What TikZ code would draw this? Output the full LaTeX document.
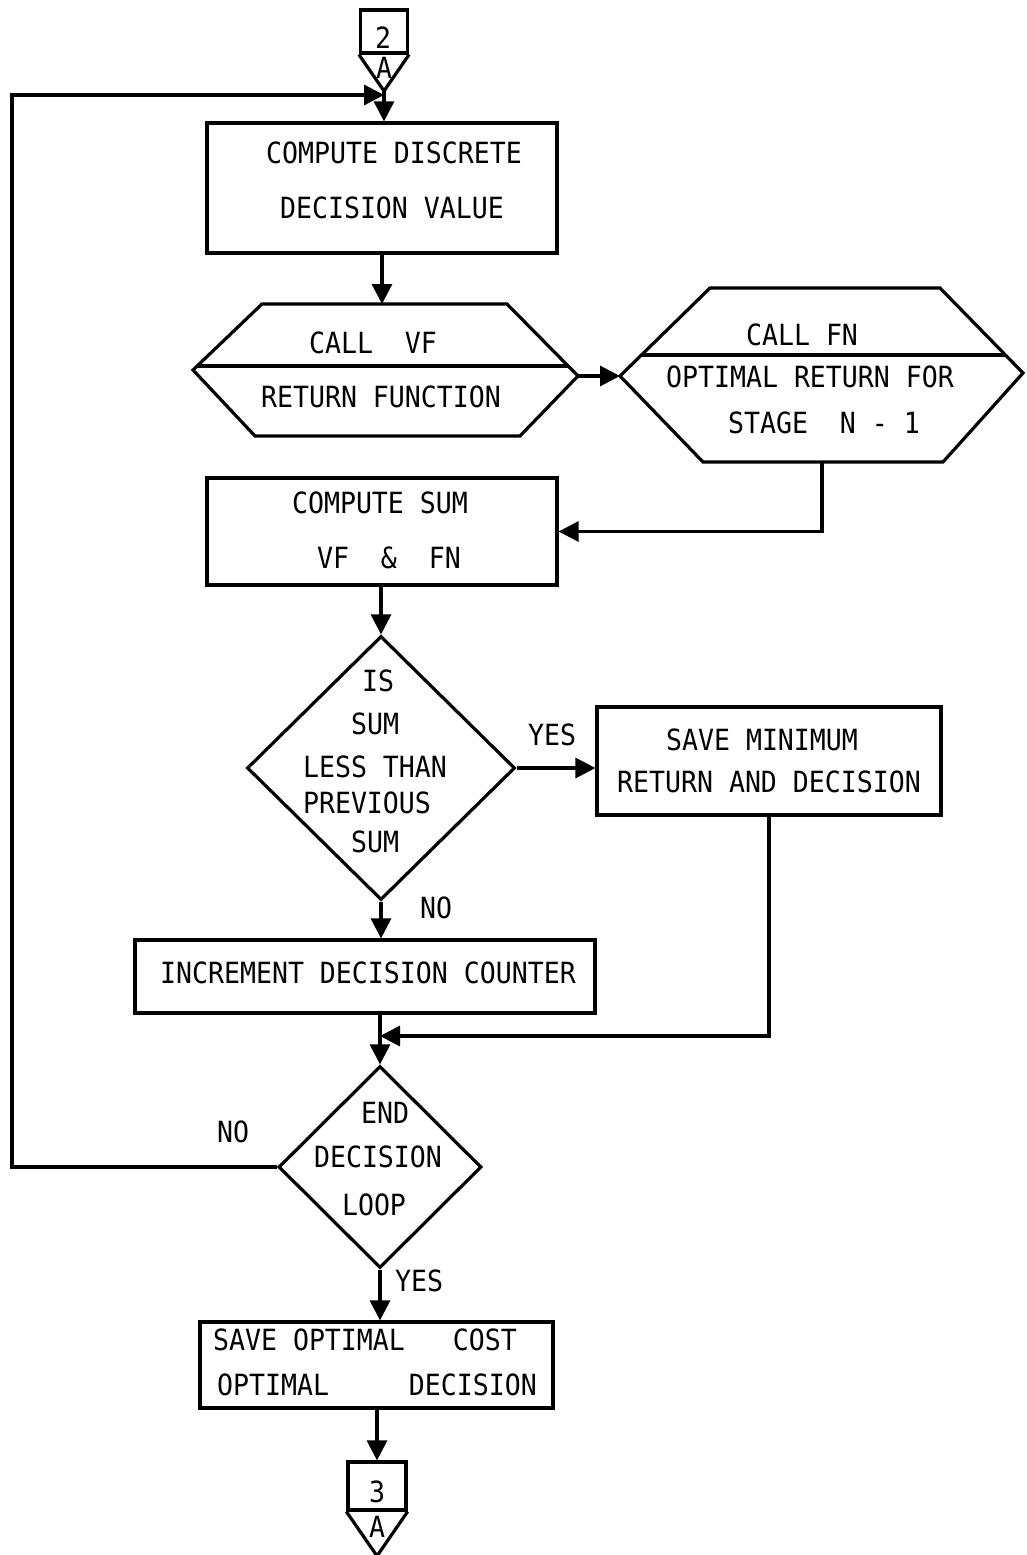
\documentclass[tikz,border=0pt]{standalone}
\usepackage{fontspec}
\newfontfamily\flowfont[FakeStretch=0.91]{DejaVu Sans Mono}
\usetikzlibrary{shapes.geometric,arrows.meta,calc}
\begin{document}
\begin{tikzpicture}[x=1pt,y=-1pt,
  flow/.style={line width=3.2pt, draw=black, line join=miter},
  box/.style={flow, rectangle, inner sep=0pt},
  decision/.style={flow, diamond, inner sep=0pt},
  txt/.style={inner sep=0pt, outer sep=0pt, text=black,
    font=\flowfont\fontsize{29.2}{34}\selectfont},
  arr/.style={line width=3.2pt, -{Triangle[length=20pt,width=20pt]}}]
\fill[white] (0,0) rectangle (1026,1555);
\useasboundingbox (0,0) rectangle (1026,1555);

% entry connector 2/A
\node[box, minimum width=47pt, minimum height=43pt] (c2) at (384,31.5) {};
\coordinate (c2tip) at (384,91);
\draw[flow] (c2.south west) -- (c2tip) -- (c2.south east);
\node[txt] (c2num) at (383,38) {2};
\node[txt] (c2lab) at (384,68) {A};

% compute discrete decision value
\node[box, minimum width=350pt, minimum height=130pt] (b1) at (382,188) {};
\node[txt] (t1a) at (394,153) {COMPUTE DISCRETE};
\node[txt] (t1b) at (392,208) {DECISION VALUE};

% call VF (split hexagon)
\coordinate (h1n) at (382,304);
\coordinate (h1e) at (578,376);
\draw[flow] (262,304) -- (507,304) -- (h1e) -- (520,436) -- (255,436) -- (193,370) -- cycle;
\draw[flow] (197,366) -- (568,366);
\node[txt] (t2a) at (373,343) {CALL~~VF};
\node[txt] (t2b) at (381,397) {RETURN FUNCTION};

% call FN (split hexagon)
\coordinate (h2w) at (620,376);
\coordinate (h2s) at (822,462);
\draw[flow] (710,288) -- (940,288) -- (1023,373) -- (943,462) -- (703,462) -- (h2w) -- cycle;
\draw[flow] (641,355) -- (1006,355);
\node[txt] (t3a) at (802,335) {CALL FN};
\node[txt] (t3b) at (810,377) {OPTIMAL RETURN FOR};
\node[txt] (t3c) at (824,423) {STAGE~~N - 1};

% compute sum
\node[box, minimum width=350pt, minimum height=107pt] (b3) at (382,531.5) {};
\node[txt] (t4a) at (380,503) {COMPUTE SUM};
\node[txt] (t4b) at (389,558) {VF~~\&~~FN};

% first decision
\node[decision, minimum width=268pt, minimum height=264pt] (d1) at (381,768) {};
\node[txt] (t5a) at (378,681) {IS};
\node[txt] (t5b) at (375,724) {SUM};
\node[txt] (t5c) at (375,767) {LESS THAN};
\node[txt] (t5d) at (367,803) {PREVIOUS};
\node[txt] (t5e) at (375,842) {SUM};

% save minimum
\node[box, minimum width=344pt, minimum height=108pt] (b4) at (769,761) {};
\node[txt] (t6a) at (762,740) {SAVE MINIMUM};
\node[txt] (t6b) at (769,782) {RETURN AND DECISION};

% increment counter
\node[box, minimum width=460pt, minimum height=73pt] (b5) at (365,976.5) {};
\node[txt] (t7) at (368,973) {INCREMENT DECISION COUNTER};

% loop end decision
\node[decision, minimum width=203pt, minimum height=202pt] (d2) at (380,1167) {};
\node[txt] (t8a) at (385,1113) {END};
\node[txt] (t8b) at (378,1157) {DECISION};
\node[txt] (t8c) at (374,1205) {LOOP};

% save optimal
\node[box, minimum width=353pt, minimum height=86pt] (b6) at (376.5,1365) {};
\node[txt] (t9a) at (365,1340) {SAVE OPTIMAL~~~COST};
\node[txt] (t9b) at (377,1385) {OPTIMAL~~~~~DECISION};

% exit connector 3/A
\node[box, minimum width=58pt, minimum height=48pt] (c3) at (377,1486) {};
\coordinate (c3tip) at (377,1556);
\draw[flow] (c3.south west) -- (c3tip) -- (c3.south east);
\node[txt] (c3num) at (377,1492) {3};
\node[txt] (c3lab) at (377,1527) {A};

% connectors
\coordinate (j) at (384,95);
\coordinate (lp) at (12,95);
\coordinate (m) at (380,1036);
\draw[arr] (c2tip) -- (c2tip |- b1.north);
\draw[arr] (b1.south) -- (b1.south |- h1n);
\draw[arr] (h1e) -- (h2w);
\draw[arr] (h2s) -- (h2s |- b3.east) -- (b3.east);
\draw[arr] (b3.south -| d1.north) -- (d1.north);
\draw[arr] (d1.east) -- (d1.east -| b4.west);
\node[txt] (yes1) at (552,735) {YES};
\draw[arr] (d1.south) -- (d1.south |- b5.north);
\node[txt] (no1) at (436,908) {NO};
\draw[arr] (b5.south -| d2.north) -- (d2.north);
\draw[arr] (b4.south) -- (b4.south |- m) -- (m);
\draw[arr] (d2.west) -- (d2.west -| lp) -- (lp) -- (j);
\node[txt] (no2) at (233,1132) {NO};
\draw[arr] (d2.south) -- (d2.south |- b6.north);
\node[txt] (yes2) at (419,1281) {YES};
\draw[arr] (b6.south) -- (b6.south -| c3.north) -- (c3.north);
\end{tikzpicture}
\end{document}
